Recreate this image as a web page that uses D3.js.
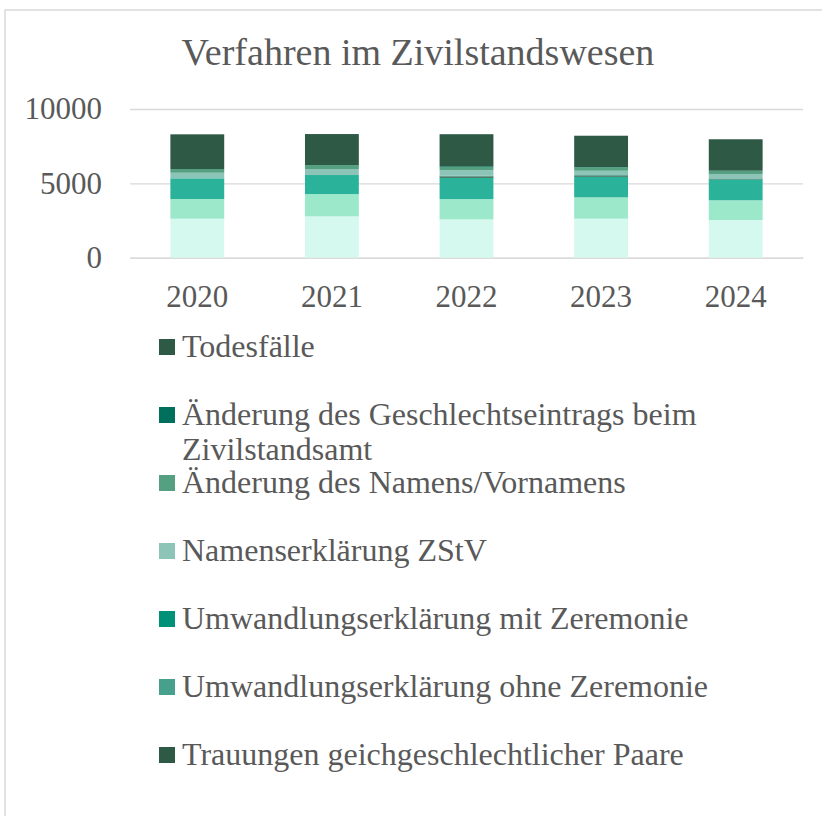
<!DOCTYPE html>
<html>
<head>
<meta charset="utf-8">
<script src="https://cdn.jsdelivr.net/npm/d3@7"></script>
<style>
	body { margin: 0; background: #fff; }
	svg { display: block; font-family: "Liberation Serif", "Times New Roman", serif; }
</style>
</head>
<body>
<div id="chart"></div>
<script>

// data, bottom of the stack first
const years = ['2020', '2021', '2022', '2023', '2024'];

const geburten = [2623, 2780, 2580, 2623, 2535];
const anerkennungen = [1325, 1500, 1365, 1435, 1325];
const trauungen = [1390, 1280, 1430, 1390, 1410];
const trauungenGleich = [0, 0, 90, 80, 45];
const umwandlungOhne = [0, 0, 40, 20, 10];
const umwandlungMit = [0, 0, 15, 10, 5];
const namenserklaerung = [375, 400, 365, 290, 300];
const namensaenderung = [250, 270, 220, 220, 200];
const geschlechtseintrag = [0, 0, 50, 30, 25];
const todesfaelle = [2334, 2085, 2150, 2105, 2110];

const yTicks = [0, 5000, 10000];

const series = [
	{ key: 'Geburten', values: geburten, color: '#d5f9ee' },
	{ key: 'Kindesanerkennungen', values: anerkennungen, color: '#9ce8cb' },
	{ key: 'Trauungen', values: trauungen, color: '#2ab29a' },
	{ key: 'Trauungen geichgeschlechtlicher Paare', values: trauungenGleich, color: '#2e5945' },
	{ key: 'Umwandlungserklärung ohne Zeremonie', values: umwandlungOhne, color: '#46a08c' },
	{ key: 'Umwandlungserklärung mit Zeremonie', values: umwandlungMit, color: '#009178' },
	{ key: 'Namenserklärung ZStV', values: namenserklaerung, color: '#8cc4b8' },
	{ key: 'Änderung des Namens/Vornamens', values: namensaenderung, color: '#55a080' },
	{ key: 'Änderung des Geschlechtseintrags beim Zivilstandsamt', values: geschlechtseintrag, color: '#00705c' },
	{ key: 'Todesfälle', values: todesfaelle, color: '#2e5945' }
];


function StackedChart(element) {
	this.element = element;
	this.width = 822;
	this.height = 816;
	this.left = 130;
	this.right = 803;
	this.top = 109;
	this.bottom = 257.7;
	this.textColor = '#595959';
	this.gridColor = '#d9d9d9';

	this.draw();
}

StackedChart.prototype.draw = function() {
	this.createSVG();
	this.createScales();
	this.createAxes();
	this.createBars();
	this.createLegend();
}

StackedChart.prototype.createSVG = function() {
	this.svg = d3.select(this.element)
		.append('svg')
			.attr('width', this.width)
			.attr('height', this.height);

	// chart frame, cut off on the right and bottom like the original
	this.svg.append('rect')
		.attr('x', 5)
		.attr('y', 10)
		.attr('width', 900)
		.attr('height', 900)
		.attr('fill', 'none')
		.attr('stroke', this.gridColor)
		.attr('stroke-width', 1.5);

	this.svg.append('text')
		.attr('x', 418)
		.attr('y', 65)
		.attr('text-anchor', 'middle')
		.attr('fill', this.textColor)
		.style('font-size', '38px')
		.text('Verfahren im Zivilstandswesen');
}

StackedChart.prototype.createScales = function() {
	this.xScale = d3.scaleBand()
		.domain(years)
		.range([this.left, this.right])
		.paddingInner(0.6)
		.paddingOuter(0.3);

	this.yScale = d3.scaleLinear()
		.domain([0, 10000])
		.range([this.bottom, this.top]);
}

StackedChart.prototype.createAxes = function() {
	let yAxis = d3.axisLeft(this.yScale)
		.tickValues(yTicks)
		.tickFormat(d3.format('d'))
		.tickSize(-(this.right - this.left))
		.tickPadding(28);

	let gy = this.svg.append('g')
		.attr('transform', `translate(${this.left}, 0)`)
		.call(yAxis)
		.attr('font-family', null)
		.attr('font-size', null);

	gy.select('.domain').remove();
	gy.selectAll('line')
		.attr('stroke', this.gridColor)
		.attr('stroke-width', 1.3);
	gy.selectAll('text')
		.attr('fill', this.textColor)
		.style('font-size', '31px');

	let xAxis = d3.axisBottom(this.xScale)
		.tickSize(0)
		.tickPadding(27);

	let gx = this.svg.append('g')
		.attr('transform', `translate(0, ${this.bottom})`)
		.call(xAxis)
		.attr('font-family', null)
		.attr('font-size', null);

	gx.select('.domain')
		.attr('stroke', this.gridColor)
		.attr('stroke-width', 1.3);
	gx.selectAll('text')
		.attr('fill', this.textColor)
		.style('font-size', '31px');
}

StackedChart.prototype.createBars = function() {
	let that = this;

	let rows = years.map(function(y, i) {
		let row = { year: y };
		series.forEach(function(s) { row[s.key] = s.values[i]; });
		return row;
	});

	let stacked = d3.stack()
		.keys(series.map(function(s) { return s.key; }))(rows);

	this.svg.append('g')
		.selectAll('g')
		.data(stacked)
		.enter().append('g')
			.attr('fill', function(d, i) { return series[i].color; })
		.selectAll('rect')
		.data(function(d) { return d; })
		.enter().append('rect')
			.attr('x', function(d) { return that.xScale(d.data.year); })
			.attr('y', function(d) { return that.yScale(d[1]); })
			.attr('width', this.xScale.bandwidth())
			.attr('height', function(d) { return that.yScale(d[0]) - that.yScale(d[1]); });
}

StackedChart.prototype.createLegend = function() {
	let that = this;
	let maxWidth = 535;

	// top of the stack first; entries that fall below the frame are left out
	let entries = series.slice().reverse();

	let legend = this.svg.append('g')
		.attr('class', 'legend');

	entries.forEach(function(s, i) {
		let baseline = 357 + 68 * i;
		if (baseline > that.height) return;

		legend.append('rect')
			.attr('x', 159)
			.attr('y', baseline - 18)
			.attr('width', 16)
			.attr('height', 16)
			.attr('fill', s.color);

		let text = legend.append('text')
			.attr('x', 182)
			.attr('y', baseline)
			.attr('fill', that.textColor)
			.style('font-size', '32px');

		// wrap long labels onto a second line
		let words = s.key.split(' ');
		let line = [];
		let tspan = text.append('tspan').attr('x', 182);
		words.forEach(function(w) {
			line.push(w);
			tspan.text(line.join(' '));
			if (tspan.node().getComputedTextLength() > maxWidth && line.length > 1) {
				line.pop();
				tspan.text(line.join(' '));
				line = [w];
				tspan = text.append('tspan')
					.attr('x', 182)
					.attr('dy', 35)
					.text(w);
			}
		});
	});
}

new StackedChart('#chart');

</script>
</body>
</html>
